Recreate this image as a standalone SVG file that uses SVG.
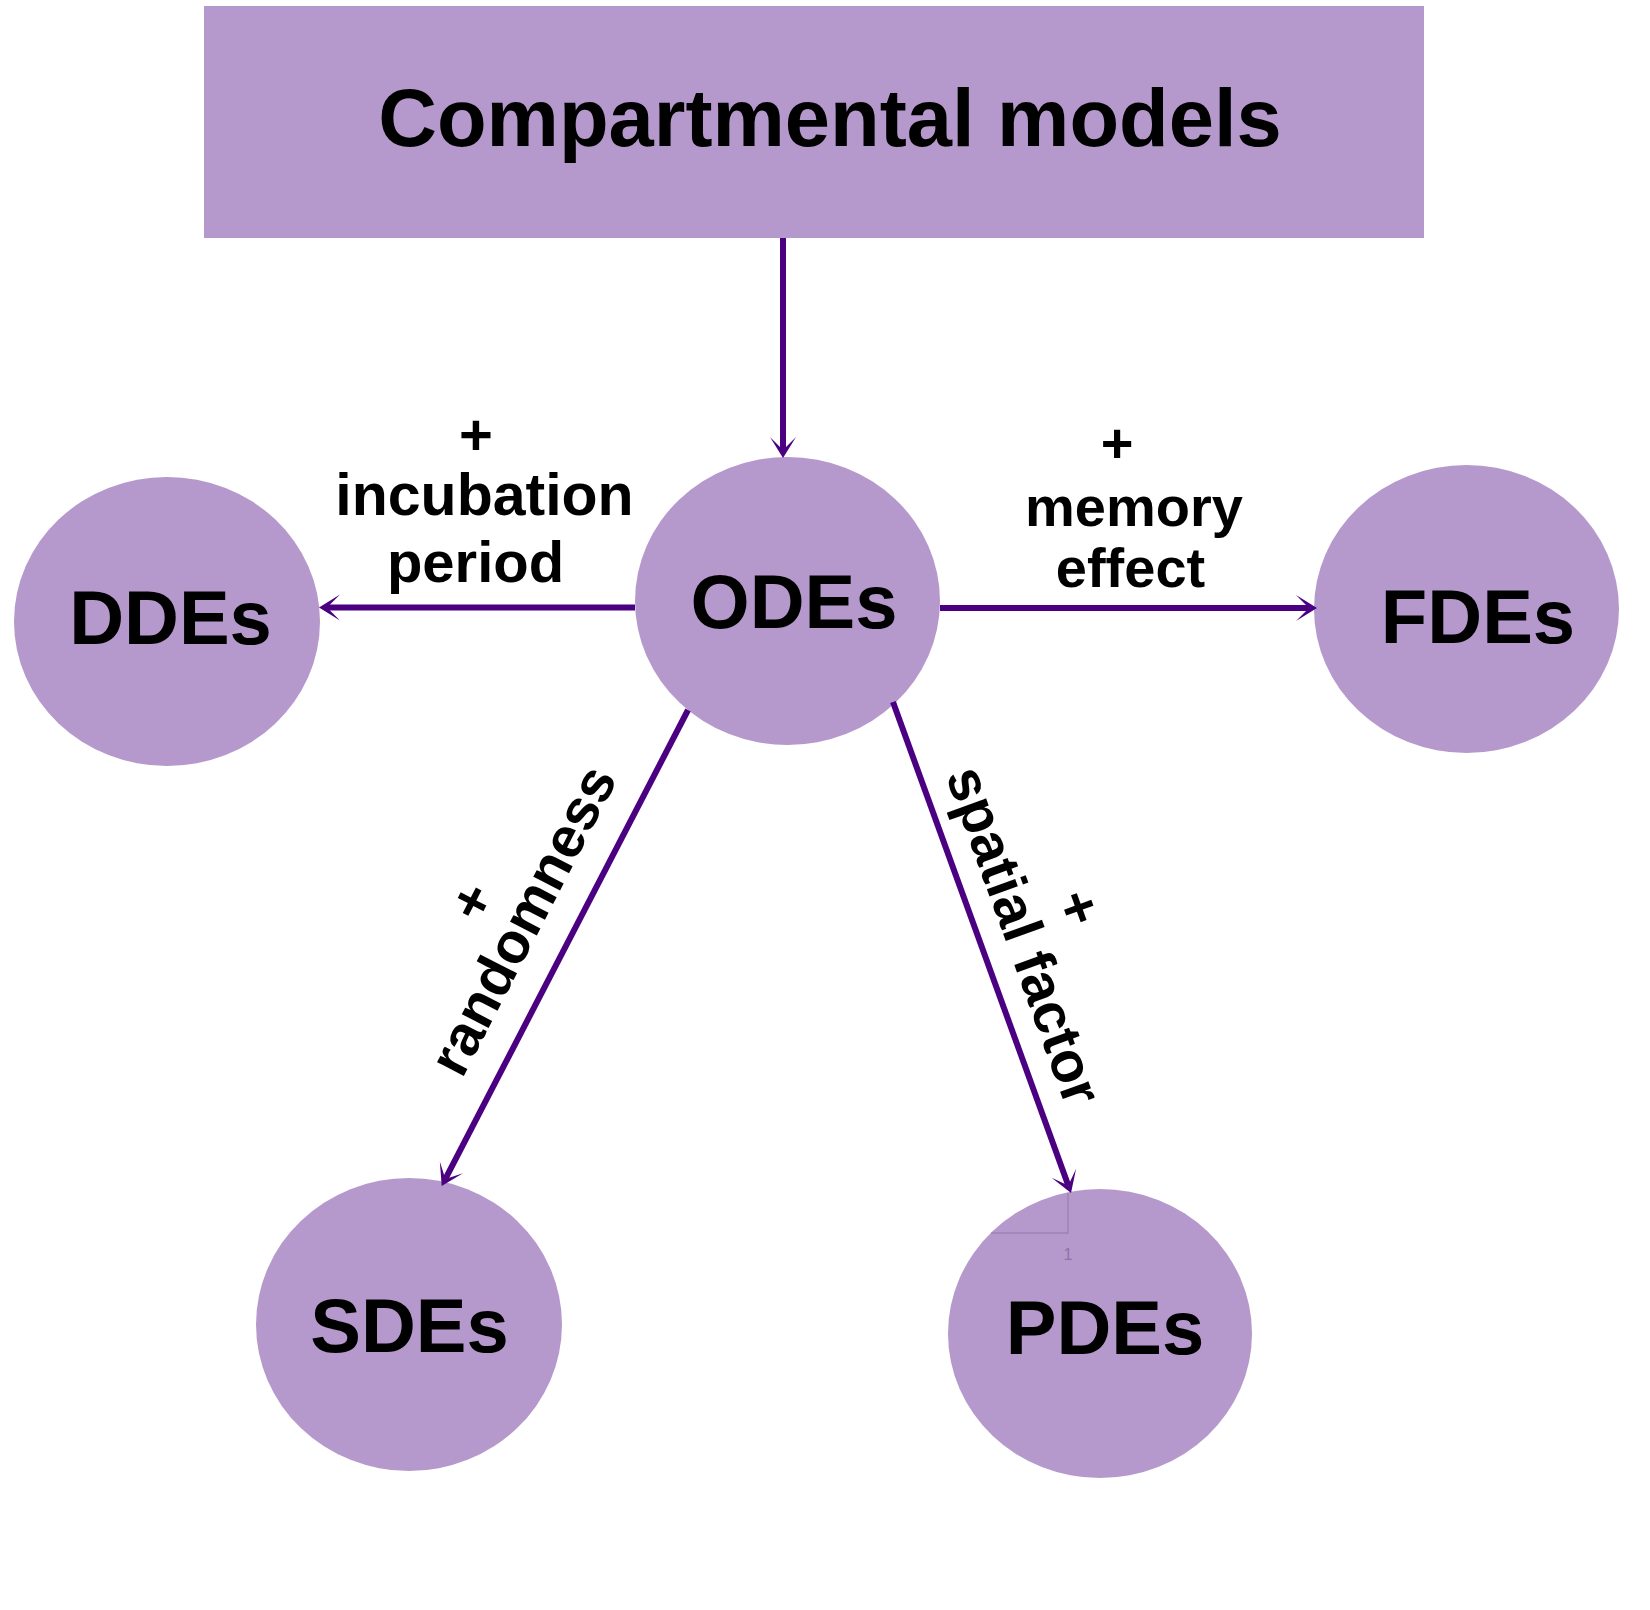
<svg xmlns="http://www.w3.org/2000/svg" width="1650" height="1610" viewBox="0 0 1650 1610">
<style>
.shape{fill:#b699cc;}
.lbl{font-family:"Liberation Sans",Arial,sans-serif;font-weight:bold;fill:#000;text-anchor:middle;}
.conn{stroke:#4b0082;stroke-width:6;fill:none;marker-end:url(#ah);}
.faint{stroke:#8e75a3;stroke-width:1.5;fill:none;opacity:0.6;}
</style>
<defs>
<marker id="ah" markerUnits="userSpaceOnUse" viewBox="-22 -15 24 30" markerWidth="24" markerHeight="30" refX="-8" refY="0" orient="auto">
<path d="M0,0 L-21,-13 L-8,0 L-21,13 Z" fill="#4b0082"/>
</marker>
</defs>
<rect width="1650" height="1610" fill="#ffffff"/>
<g id="compartmental">
<rect class="shape" x="204" y="6" width="1220" height="232"/>
<text class="lbl" x="830" y="146" font-size="81.3">Compartmental models</text>
</g>
<g id="odes">
<ellipse class="shape" cx="787.5" cy="601" rx="152.5" ry="144"/>
<text class="lbl" x="794" y="628" font-size="76">ODEs</text>
</g>
<g id="ddes">
<ellipse class="shape" cx="167" cy="621.5" rx="153" ry="144.5"/>
<text class="lbl" x="170.5" y="644" font-size="76">DDEs</text>
</g>
<g id="fdes">
<ellipse class="shape" cx="1466.5" cy="609" rx="152.5" ry="144"/>
<text class="lbl" x="1478" y="643" font-size="76">FDEs</text>
</g>
<g id="sdes">
<ellipse class="shape" cx="409" cy="1324.5" rx="153" ry="146.5"/>
<text class="lbl" x="409.5" y="1352" font-size="76">SDEs</text>
</g>
<g id="pdes">
<ellipse class="shape" cx="1100" cy="1333.5" rx="152" ry="144.5"/>
<path class="faint" d="M991,1233 H1068 V1193"/>
<text x="1068" y="1260" font-family="Liberation Sans,Arial,sans-serif" font-size="16" fill="#7d6690" opacity="0.7" text-anchor="middle">1</text>
<text class="lbl" x="1105" y="1354" font-size="76">PDEs</text>
</g>
<g id="connectors">
<line class="conn" x1="783" y1="238" x2="783" y2="450"/>
<line class="conn" x1="635" y1="607.5" x2="327" y2="607.5"/>
<line class="conn" x1="940" y1="608" x2="1309" y2="608"/>
<line class="conn" x1="688" y1="710" x2="445.4" y2="1178.9"/>
<line class="conn" x1="893" y1="702" x2="1068.3" y2="1185.5"/>
</g>
<g id="connector-labels">
<text class="lbl" x="476" y="455" font-size="58">+</text>
<text class="lbl" x="484.5" y="515" font-size="59">incubation</text>
<text class="lbl" x="475.5" y="582" font-size="58">period</text>
<text class="lbl" x="1117" y="462" font-size="56">+</text>
<text class="lbl" x="1134" y="526" font-size="56">memory</text>
<text class="lbl" x="1130.5" y="587" font-size="56">effect</text>
<g transform="translate(540,929) rotate(-62.6)">
<text class="lbl" x="-7" y="-54" font-size="57">+</text>
<text class="lbl" x="0" y="0" font-size="57">randomness</text>
</g>
<g transform="translate(1006,942) rotate(70.1)">
<text class="lbl" x="-7.5" y="-61" font-size="57">+</text>
<text class="lbl" x="0" y="0" font-size="57">spatial factor</text>
</g>
</g>
</svg>
